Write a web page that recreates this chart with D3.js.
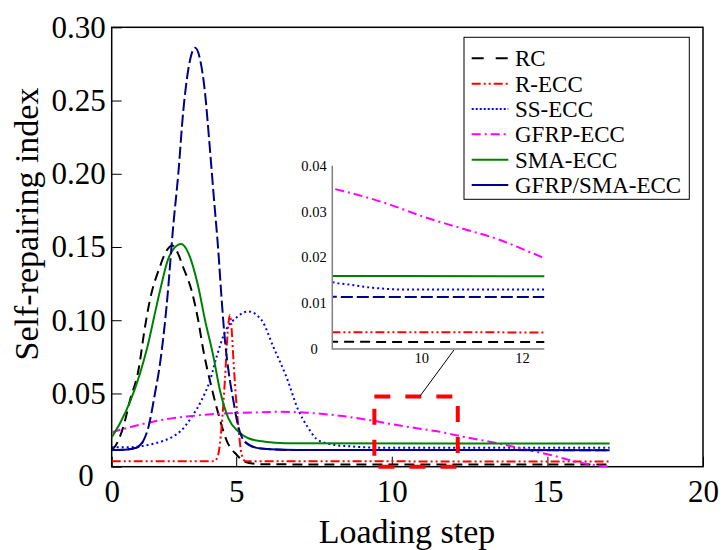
<!DOCTYPE html>
<html>
<head>
<meta charset="utf-8">
<script src="https://cdn.jsdelivr.net/npm/d3@7"></script>
<style>
	body { margin: 0; background: #fff; }
	svg text { font-family: "Liberation Serif", "Times New Roman", serif; fill: #000; }
</style>
</head>
<body>
<div id="chart"></div>
<script>
// series: [loading step, self-repairing index]
const seriesNames	= ["RC", "R-ECC", "SS-ECC", "GFRP-ECC", "SMA-ECC", "GFRP/SMA-ECC"];

const rc = [[1,0.0114],[1.1,0.0136],[1.37,0.027],[1.59,0.0455],[1.86,0.066],[2.07,0.0955],[2.23,0.114],[2.54,0.136],
	[2.75,0.147],[2.95,0.151],[3.12,0.146],[3.3,0.136],[3.57,0.12],[3.78,0.1],[3.94,0.08],[4.21,0.054],[4.48,0.032],
	[4.69,0.018],[5.02,0.008],[5.28,0.0034],[5.6,0.002],[6,0.0016],[17,0.0015]];
const rEcc = [[1,0.0037],[4.3,0.0037],[4.42,0.008],[4.53,0.027],[4.64,0.06],[4.72,0.09],[4.8,0.1035],[4.86,0.092],
	[4.92,0.07],[5.0,0.045],[5.07,0.027],[5.18,0.008],[5.3,0.0037],[17,0.0036]];
const ssEcc = [[1,0.0132],[1.5,0.0132],[2.0,0.0142],[2.4,0.016],[2.71,0.018],[3.0,0.021],[3.25,0.025],[3.57,0.034],
	[3.89,0.0455],[4.16,0.059],[4.37,0.075],[4.64,0.092],[5.02,0.102],[5.38,0.106],[5.82,0.1],[6.19,0.082],[6.62,0.061],
	[6.99,0.039],[7.3,0.027],[7.58,0.019],[7.9,0.016],[8.2,0.0147],[8.6,0.014],[9,0.0134],[9.6,0.013],[17,0.013]];
const gfrpEcc = [[1,0.0235],[1.64,0.0273],[2.39,0.031],[2.93,0.033],[3.6,0.0347],[4.32,0.036],[5.6,0.037],[6.45,0.0375],
	[7.3,0.0368],[8.2,0.0351],[9.4,0.0314],[10,0.029],[10.8,0.0263],[11.5,0.024],[12.4,0.02],[13.4,0.016],[14.2,0.0122],
	[15.1,0.008],[16.15,0.0023],[17,0]];
const smaEcc = [[1,0.02],[1.3,0.031],[1.6,0.045],[1.9,0.063],[2.15,0.082],[2.35,0.101],[2.55,0.12],[2.82,0.142],
	[3.0,0.149],[3.23,0.152],[3.46,0.146],[3.78,0.123],[4.0,0.1],[4.27,0.075],[4.48,0.052],[4.75,0.033],[5.07,0.024],
	[5.39,0.0194],[5.93,0.017],[6.57,0.016],[17,0.0158]];
const gfrpSmaEcc = [[1,0.0114],[1.5,0.0118],[1.8,0.013],[2.0,0.017],[2.18,0.027],[2.39,0.05],[2.55,0.07],[2.77,0.111],
	[2.98,0.165],[3.14,0.2],[3.3,0.243],[3.46,0.271],[3.68,0.286],[3.84,0.278],[4.0,0.255],[4.14,0.221],[4.27,0.187],
	[4.43,0.146],[4.53,0.115],[4.64,0.086],[4.75,0.066],[4.91,0.045],[5.07,0.027],[5.28,0.017],[5.6,0.0132],[6.1,0.0119],
	[7,0.0114],[17,0.0113]];

const seriesData	= [rc, rEcc, ssEcc, gfrpEcc, smaEcc, gfrpSmaEcc];

const xTicks		= [1, 5, 10, 15, 20];
const xTickLabels	= ["0", "5", "10", "15", "20"];
const yTicks		= [0, 0.05, 0.10, 0.15, 0.20, 0.25, 0.30];
const yTickLabels	= ["0", "0.05", "0.10", "0.15", "0.20", "0.25", "0.30"];

const zoomStep		= [9.44, 12.12];
const zoomIndex		= [0, 0.048];
const insetStep		= [8.23, 12.43];
const insetIndex	= [0, 0.04];
const insetXTicks	= [10, 12];
const insetYTicks	= [0, 0.01, 0.02, 0.03, 0.04];
const insetYTickLabels	= ["0", "0.01", "0.02", "0.03", "0.04"];

// styles
const colors	= ["#000000", "#ff0000", "#0000ff", "#ff00ff", "#008000", "#00008b"];
const dashes	= ["10,6", "9,3,2,3,2,3", "2,3", "9,4,2,4", null, "12,4"];
const legendDashes	= ["12,12", "9,3,2,3,2,3", "2,2", "9,4,2,4", null, null];

let canvasWidth		= 723;
let canvasHeight	= 550;
let margin		= { top: 27.3, left: 111.7 };
let width		= 591.3;
let height		= 439.4;

let x = d3.scaleLinear().domain([1, 20]).range([0, width]);
let y = d3.scaleLinear().domain([0, 0.30]).range([height, 0]);

let svg = d3.select("#chart").append("svg")
	.attr("width", canvasWidth)
	.attr("height", canvasHeight);

let g = svg.append("g")
	.attr("transform", "translate(" + margin.left + "," + margin.top + ")");

svg.append("defs").append("clipPath").attr("id", "main-clip")
	.append("rect").attr("x", 0).attr("y", 0).attr("width", width).attr("height", height + 2);

// axes
let xAxis = g.append("g")
	.attr("transform", "translate(0," + height + ")")
	.call(d3.axisBottom(x).tickValues(xTicks).tickFormat((d, i) => xTickLabels[i]).tickSizeInner(-10).tickSizeOuter(0).tickPadding(13));
let yAxis = g.append("g")
	.call(d3.axisLeft(y).tickValues(yTicks).tickFormat((d, i) => yTickLabels[i]).tickSizeInner(-10).tickSizeOuter(0).tickPadding(6));

[xAxis, yAxis].forEach((a) => {
	a.select(".domain").remove();
	a.selectAll(".tick line").attr("stroke", "#000").attr("stroke-width", 1);
	a.selectAll(".tick text").style("font-size", "31px").style("font-family", "Liberation Serif");
});
yAxis.selectAll(".tick text").filter((d) => d === 0)
	.attr("transform", "translate(-12,9)");

g.append("rect")
	.attr("width", width).attr("height", height)
	.attr("fill", "none").attr("stroke", "#000").attr("stroke-width", 1.5);

// titles
svg.append("text")
	.attr("x", 407).attr("y", 543)
	.attr("text-anchor", "middle")
	.style("font-size", "34px")
	.text("Loading step");
svg.append("text")
	.attr("transform", "translate(38,224) rotate(-90)")
	.attr("text-anchor", "middle")
	.style("font-size", "34px")
	.text("Self-repairing index");

// curves
let line = d3.line().x((d) => x(d[0])).y((d) => y(d[1])).curve(d3.curveMonotoneX);

let curves = g.append("g").attr("clip-path", "url(#main-clip)");
curves.selectAll("path").data(seriesData).enter().append("path")
	.attr("d", line)
	.attr("fill", "none")
	.attr("stroke", (d, i) => colors[i])
	.attr("stroke-width", 2)
	.attr("stroke-dasharray", (d, i) => dashes[i]);

// the flat tails of GFRP/SMA-ECC come out solid in the original
curves.append("path")
	.attr("d", line.defined((d) => d[1] < 0.02)(gfrpSmaEcc))
	.attr("fill", "none")
	.attr("stroke", colors[5])
	.attr("stroke-width", 2);

// zoom window
g.append("rect")
	.attr("x", x(zoomStep[0]))
	.attr("y", y(zoomIndex[1]))
	.attr("width", x(zoomStep[1]) - x(zoomStep[0]))
	.attr("height", y(zoomIndex[0]) - y(zoomIndex[1]))
	.attr("fill", "none")
	.attr("stroke", "#ff0000")
	.attr("stroke-width", 4)
	.attr("stroke-dasharray", "16,15");

// inset
let ix = d3.scaleLinear().domain(insetStep).range([332.3, 544.3]);
let iy = d3.scaleLinear().domain(insetIndex).range([349, 165.7]);

svg.append("line")
	.attr("x1", margin.left + x(10.9)).attr("y1", margin.top + y(zoomIndex[1]))
	.attr("x2", ix(10.64)).attr("y2", iy(0) + 1)
	.attr("stroke", "#000").attr("stroke-width", 1);

svg.select("defs").append("clipPath").attr("id", "inset-clip")
	.append("rect").attr("x", ix(insetStep[0])).attr("y", 150)
	.attr("width", ix(insetStep[1]) - ix(insetStep[0])).attr("height", iy(0) - 150 + 2);

let inset = svg.append("g").attr("id", "inset");

inset.append("g").attr("clip-path", "url(#inset-clip)")
	.selectAll("path").data(seriesData).enter().append("path")
		.attr("d", d3.line().x((d) => ix(d[0])).y((d) => iy(d[1])).curve(d3.curveMonotoneX))
		.attr("fill", "none")
		.attr("stroke", (d, i) => colors[i])
		.attr("stroke-width", 2)
		.attr("stroke-dasharray", (d, i) => dashes[i]);

inset.append("path")
	.attr("d", "M" + ix(insetStep[0]) + "," + iy(insetIndex[1]) + "V" + iy(0) + "H" + ix(insetStep[1]))
	.attr("fill", "none").attr("stroke", "#808080").attr("stroke-width", 1.5);

inset.selectAll(".iy-label").data(insetYTicks).enter().append("text")
	.attr("class", "iy-label")
	.attr("x", 314)
	.attr("y", (d) => iy(d))
	.attr("dy", "0.35em")
	.attr("text-anchor", "middle")
	.style("font-size", "14.5px")
	.text((d, i) => insetYTickLabels[i]);

inset.selectAll(".ix-label").data(insetXTicks).enter().append("text")
	.attr("class", "ix-label")
	.attr("x", (d) => ix(d))
	.attr("y", 363)
	.attr("text-anchor", "middle")
	.style("font-size", "14.5px")
	.text((d) => d);

// legend
let legend = svg.append("g").attr("id", "legend");
legend.append("rect")
	.attr("x", 464).attr("y", 37.3).attr("width", 225.3).attr("height", 162)
	.attr("fill", "#fff").attr("stroke", "#000").attr("stroke-width", 1);

let item = legend.selectAll(".item").data(seriesNames).enter().append("g")
	.attr("class", "item")
	.attr("transform", (d, i) => "translate(0," + (58.3 + i * 25.35) + ")");
item.append("line")
	.attr("x1", 471.7).attr("x2", 508.3)
	.attr("stroke", (d, i) => colors[i])
	.attr("stroke-width", 2)
	.attr("stroke-dasharray", (d, i) => legendDashes[i]);
item.append("text")
	.attr("x", 515)
	.attr("dy", "0.35em")
	.style("font-size", "23px")
	.text((d) => d);
</script>
</body>
</html>
